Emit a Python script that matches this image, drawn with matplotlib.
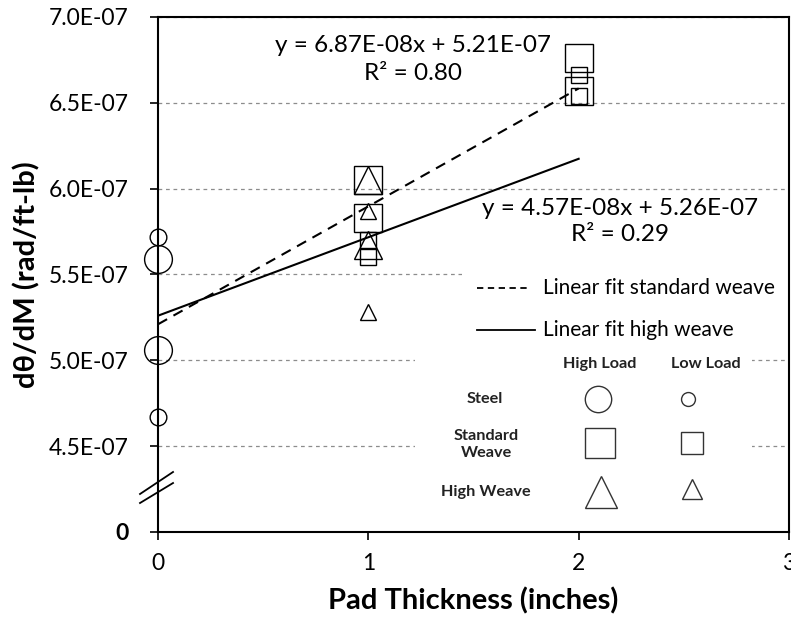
import matplotlib
matplotlib.use("Agg")
import matplotlib.pyplot as plt
from matplotlib.patches import Rectangle
from matplotlib.lines import Line2D

plt.rcParams['font.family'] = ['Lato', 'DejaVu Sans']

# ---------------- data ----------------
steel_x = [0, 0]
steel_high = [5.59e-7, 5.06e-7]
steel_low = [5.72e-7, 4.67e-7]

std_high_x = [1, 1, 2, 2]
std_high = [6.05e-7, 5.83e-7, 6.76e-7, 6.57e-7]
std_low_x = [1, 1, 2, 2]
std_low = [5.70e-7, 5.60e-7, 6.66e-7, 6.54e-7]

hw_high_x = [1, 1]
hw_high = [6.05e-7, 5.67e-7]
hw_low_x = [1, 1]
hw_low = [5.87e-7, 5.28e-7]

# linear fits (slope, intercept, R^2)
fit_std = (6.87e-8, 5.21e-7, 0.80)
fit_hw = (4.57e-8, 5.26e-7, 0.29)
fit_x = [0, 2]

y_ticks = [4.0e-7, 4.5e-7, 5.0e-7, 5.5e-7, 6.0e-7, 6.5e-7, 7.0e-7]
y_tick_labels = ['0', '4.5E-07', '5.0E-07', '5.5E-07', '6.0E-07', '6.5E-07', '7.0E-07']
x_ticks = [0, 1, 2, 3]

# ---------------- figure ----------------
fig = plt.figure(figsize=(7.91, 6.27), dpi=100)
ax = fig.add_axes([158/791, 1-532/627, 631/791, 515/627])
ax.set_xlim(0, 3)
ax.set_ylim(4.0e-7, 7.0e-7)

ax.set_axisbelow(True)
ax.yaxis.grid(True, color='#8c8c8c', linestyle=(0, (3, 3)), linewidth=0.9)
ax.xaxis.grid(False)

# white panels behind the custom legend
ax.add_patch(Rectangle((0.482, 0.363), 0.518, 0.161, transform=ax.transAxes,
                       facecolor='white', edgecolor='none', zorder=1))
ax.add_patch(Rectangle((0.407, 0.014), 0.534, 0.349, transform=ax.transAxes,
                       facecolor='white', edgecolor='none', zorder=1))

big, small = 20, 12
mkw = dict(linestyle='none', markerfacecolor='none', markeredgecolor='black',
           markeredgewidth=1.0, zorder=3, clip_on=False)

# fit lines
ax.plot(fit_x, [fit_std[0]*x + fit_std[1] for x in fit_x], color='black',
        linestyle=(0, (5, 3.5)), linewidth=1.5, zorder=4)
ax.plot(fit_x, [fit_hw[0]*x + fit_hw[1] for x in fit_x], color='black',
        linestyle='-', linewidth=1.5, zorder=4)

# data points
ax.plot(steel_x, steel_high, marker='o', markersize=big, **mkw)
ax.plot(steel_x, steel_low, marker='o', markersize=small, **mkw)
ax.plot(std_high_x, std_high, marker='s', markersize=big, **mkw)
ax.plot(std_low_x, std_low, marker='s', markersize=small, **mkw)
ax.plot(hw_high_x, hw_high, marker='^', markersize=big, **mkw)
ax.plot(hw_low_x, hw_low, marker='^', markersize=small, **mkw)

# axes styling
for s in ax.spines.values():
    s.set_linewidth(1.5)
    s.set_color('black')
    s.set_zorder(2.8)
ax.set_xticks(x_ticks)
ax.set_xticklabels([str(v) for v in x_ticks])
ax.set_yticks(y_ticks)
ax.set_yticklabels(y_tick_labels)
ax.tick_params(axis='both', direction='out', length=6, width=1.2, labelsize=16.5)
ax.tick_params(axis='x', pad=9)
ax.tick_params(axis='y', pad=15)
ax.get_yticklabels()[0].set_fontweight('bold')

ax.set_xlabel('Pad Thickness (inches)', fontsize=21, fontweight='bold', labelpad=10)
ax.set_ylabel('dθ/dM (rad/ft-lb)', fontsize=21, fontweight='bold', labelpad=6)

# axis break marks
for y0, y1 in [(0.0738, 0.1165), (0.0563, 0.0951)]:
    ax.add_line(Line2D([-0.0285, 0.0238], [y0, y1], transform=ax.transAxes,
                       color='black', linewidth=1.3, clip_on=False, zorder=5))

# equations
ax.text(0.404, 0.918, 'y = %.2fE-08x + %.2fE-07\nR² = %.2f' % (fit_std[0]*1e8, fit_std[1]*1e7, fit_std[2]),
        transform=ax.transAxes, ha='center', va='center', fontsize=17.5,
        linespacing=1.4, zorder=6)
ax.text(0.732, 0.603, 'y = %.2fE-08x + %.2fE-07\nR² = %.2f' % (fit_hw[0]*1e8, fit_hw[1]*1e7, fit_hw[2]),
        transform=ax.transAxes, ha='center', va='center', fontsize=17.5,
        linespacing=1.3, zorder=6)

# custom legend: fit lines
ax.add_line(Line2D([0.506, 0.586], [0.474, 0.474], transform=ax.transAxes, color='black',
                   linestyle=(0, (3.5, 2.5)), linewidth=1.3, zorder=6))
ax.text(0.610, 0.474, 'Linear fit standard weave', transform=ax.transAxes,
        ha='left', va='center', fontsize=15, zorder=6)
ax.add_line(Line2D([0.506, 0.597], [0.392, 0.392], transform=ax.transAxes, color='black',
                   linestyle='-', linewidth=1.3, zorder=6))
ax.text(0.610, 0.392, 'Linear fit high weave', transform=ax.transAxes,
        ha='left', va='center', fontsize=15, zorder=6)

# custom legend: marker table
tkw = dict(transform=ax.transAxes, ha='center', va='center', fontsize=11.7,
           fontweight='bold', color='#222222', zorder=6)
ax.text(0.700, 0.326, 'High Load', **tkw)
ax.text(0.868, 0.326, 'Low Load', **tkw)
ax.text(0.518, 0.258, 'Steel', **tkw)
ax.text(0.520, 0.170, 'Standard\nWeave', linespacing=1.3, **tkw)
ax.text(0.520, 0.078, 'High Weave', **tkw)

lkw = dict(transform=ax.transAxes, linestyle='none', markerfacecolor='none',
           markeredgecolor='#333333', markeredgewidth=1.0, zorder=6, clip_on=False)
ax.add_line(Line2D([0.697], [0.258], marker='o', markersize=19, **lkw))
ax.add_line(Line2D([0.840], [0.258], marker='o', markersize=10, **lkw))
ax.add_line(Line2D([0.700], [0.173], marker='s', markersize=21, **lkw))
ax.add_line(Line2D([0.846], [0.173], marker='s', markersize=16, **lkw))
ax.add_line(Line2D([0.702], [0.078], marker='^', markersize=23, **lkw))
ax.add_line(Line2D([0.846], [0.083], marker='^', markersize=15, **lkw))

fig.savefig('out.png', dpi=100)
